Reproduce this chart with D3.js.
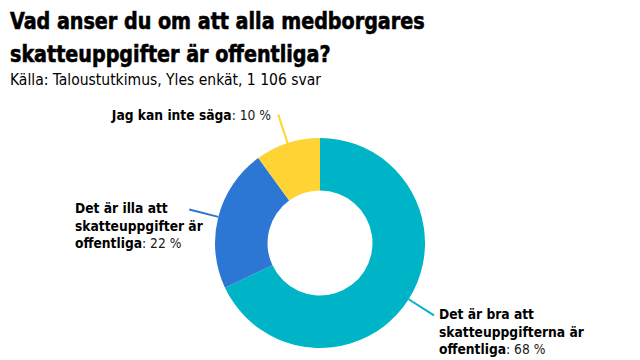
<!DOCTYPE html>
<html><head><meta charset="utf-8">
<script src="https://cdn.jsdelivr.net/npm/d3@7/dist/d3.min.js"></script>
<style>
body{margin:0;background:#fff;}
svg{display:block;}
text{font-family:"DejaVu Sans Condensed","Liberation Sans Narrow",sans-serif;fill:#000;}
</style></head><body>
<svg id="c" width="640" height="360"></svg>
<script>
const titleLines = ["Vad anser du om att alla medborgares", "skatteuppgifter är offentliga?"];
const subtitle = "Källa: Taloustutkimus, Yles enkät, 1 106 svar";
const categories = ["Det är bra att skatteuppgifterna är offentliga", "Det är illa att skatteuppgifter är offentliga", "Jag kan inte säga"];
const labelLines = [["Det är bra att", "skatteuppgifterna är", "offentliga"], ["Det är illa att", "skatteuppgifter är", "offentliga"], ["Jag kan inte säga"]];
const values = [68, 22, 10];
const colors = ["#00b4c8", "#2b77d3", "#ffd333"];

const svg = d3.select("#c");
const cx = 320, cy = 243, rOuter = 105, rInner = 52.5;

const tg = svg.append("g");
const titleTexts = titleLines.map((t, i) =>
  tg.append("text").attr("x", 10).attr("y", 29 + i * 33).attr("font-size", 23.5).attr("font-weight", "bold")
    .attr("stroke", "#000").attr("stroke-width", 0.6).text(t));
// condense the title to the reference's narrow face
const w0 = titleTexts[0].node().getComputedTextLength();
const k = Math.min(1, 415 / w0);
titleTexts.forEach(t => t.attr("transform", `translate(10,0) scale(${k},1) translate(-10,0)`));
tg.append("text").attr("x", 10).attr("y", 85).attr("font-size", 15.5).attr("fill", "#1a1a1a").text(subtitle);

const data = categories.map((c, i) => ({c, v: values[i], col: colors[i], lines: labelLines[i]}));
const pie = d3.pie().value(d => d.v).sort(null);
const arcs = pie(data);
const arc = d3.arc().innerRadius(rInner).outerRadius(rOuter);
const g = svg.append("g").attr("transform", `translate(${cx},${cy})`);
g.selectAll("path").data(arcs).join("path").attr("d", arc).attr("fill", d => d.data.col);

arcs.forEach(a => {
  const mid = (a.startAngle + a.endAngle) / 2;
  const p0 = [Math.sin(mid) * rOuter, -Math.cos(mid) * rOuter];
  const p1 = [Math.sin(mid) * 135, -Math.cos(mid) * 135];
  g.append("line").attr("x1", p0[0]).attr("y1", p0[1]).attr("x2", p1[0]).attr("y2", p1[1])
    .attr("stroke", a.data.col).attr("stroke-width", 2);
});

const lab = svg.append("g");
function addLabel(a, x, y, anchor) {
  const t = lab.append("text").attr("font-size", 13.7).attr("text-anchor", anchor);
  const lines = a.data.lines;
  lines.forEach((l, i) => {
    const ts = t.append("tspan").attr("x", x).attr("y", y + i * 17.5);
    ts.append("tspan").attr("font-weight", "bold").text(l);
    if (i === lines.length - 1) ts.append("tspan").attr("fill", "#1a1a1a").text(": " + a.data.v + " %");
  });
}
addLabel(arcs[0], 439, 319, "start");
addLabel(arcs[1], 75, 213, "start");
addLabel(arcs[2], 271, 120, "end");
</script>
</body></html>
